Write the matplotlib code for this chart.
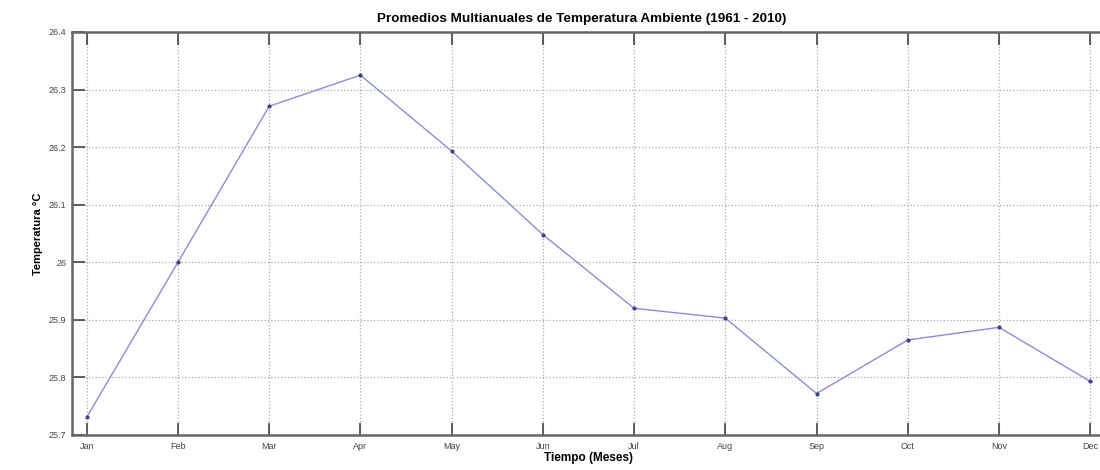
import matplotlib
matplotlib.use("Agg")
import matplotlib.pyplot as plt

# monthly multi-year mean temperature
months = ['Jan', 'Feb', 'Mar', 'Apr', 'May', 'Jun',
          'Jul', 'Aug', 'Sep', 'Oct', 'Nov', 'Dec']
month_num = [1, 2, 3, 4, 5, 6, 7, 8, 9, 10, 11, 12]
temps = [25.731, 26.000, 26.271, 26.325, 26.193, 26.048,
         25.920, 25.903, 25.772, 25.865, 25.887, 25.793]
yticks = [25.7, 25.8, 25.9, 26.0, 26.1, 26.2, 26.3, 26.4]
ytick_labels = ['25.7', '25.8', '25.9', '26', '26.1', '26.2', '26.3', '26.4']

plt.rcParams['font.family'] = ['Liberation Sans', 'DejaVu Sans']

fig = plt.figure(figsize=(11, 4.7), dpi=100)
ax = fig.add_axes([0.0655, 0.0745, 0.939, 0.8575])

ax.plot(month_num, temps, color='#8c8cdc', linewidth=1.0,
        marker='.', markersize=4, markerfacecolor='#404090',
        markeredgecolor='#404090')

ax.set_xlim(0.839, 12.161)
ax.set_ylim(25.7, 26.4)
ax.set_xticks(month_num)
ax.set_xticklabels(months)
ax.set_yticks(yticks)
ax.set_yticklabels(ytick_labels)

ax.grid(True, linestyle=':', color='#aaaaaa', linewidth=0.9)
ax.tick_params(direction='in', length=9, width=1.2, labelsize=6.5,
               top=True, right=False, colors='#444444')
ax.tick_params(axis='x', pad=5)
ax.tick_params(axis='y', pad=4)
for s in ax.spines.values():
    s.set_linewidth(1.8)
    s.set_color('#666666')

ax.set_title('Promedios Multianuales de Temperatura Ambiente (1961 - 2010)',
             fontsize=9.7, fontweight='bold', pad=7, x=0.493)
ax.set_xlabel('Tiempo (Meses)', fontsize=8.5, fontweight='bold', labelpad=1)
ax.set_ylabel('Temperatura °C', fontsize=8, fontweight='bold', labelpad=4)

fig.savefig('out.png', dpi=100)
